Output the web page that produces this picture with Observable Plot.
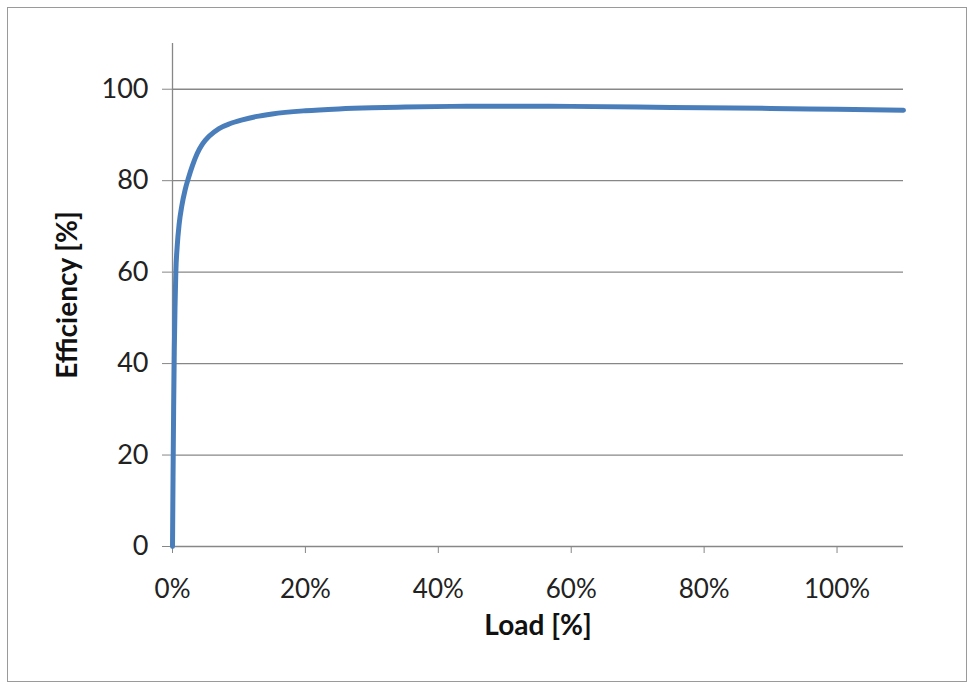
<!DOCTYPE html>
<html>
<head>
<meta charset="utf-8">
<script src="https://cdn.jsdelivr.net/npm/d3@7"></script>
<script src="https://cdn.jsdelivr.net/npm/@observablehq/plot@0.6"></script>
<style>
  html, body { margin: 0; padding: 0; background: #fff; }
  #wrap { position: relative; width: 971px; height: 688px; }
  #border { position: absolute; left: 7px; top: 7px; width: 958px; height: 673px;
            border: 1.5px solid #9a9a9a; pointer-events: none; }
</style>
</head>
<body>
<div id="wrap"><div id="border"></div></div>
<script>
// Load (% of rated) and efficiency (%)
const loadPct    = [0, 0.08, 0.17, 0.27, 0.38, 0.5, 0.7, 1.0, 1.4, 1.9, 2.4, 3.0, 3.7, 4.5, 5.5, 7.0, 8.7, 10.5, 12.5, 15, 20, 25, 30, 35, 42, 50, 60, 70, 80, 90, 100, 110];
const efficiency = [0, 15, 30, 43, 52.5, 60, 65.5, 70.5, 74.5, 78, 80.6, 83.3, 85.9, 88.0, 89.7, 91.4, 92.5, 93.3, 94.0, 94.6, 95.3, 95.7, 95.95, 96.1, 96.25, 96.3, 96.25, 96.1, 95.95, 95.8, 95.6, 95.4];
const xTicks = [0, 20, 40, 60, 80, 100];
const yTicks = [0, 20, 40, 60, 80, 100];
const xTitle = "Load [%]";
const yTitle = "Efficiency [%]";

const data = loadPct.map((x, i) => ({load: x, eff: efficiency[i]}));
const gray = "#878787";

const chart = Plot.plot({
  width: 971,
  height: 688,
  marginLeft: 172,
  marginRight: 68,
  marginTop: 43,
  marginBottom: 142,
  style: {fontFamily: "Lato, 'Open Sans', sans-serif", fontSize: "27px", color: "#222", background: "transparent"},
  x: {domain: [0, 110], ticks: xTicks, tickFormat: d => d + "%"},
  y: {domain: [0, 110], ticks: yTicks},
  marks: [
    Plot.gridY(yTicks.filter(d => d > 0), {stroke: gray, strokeOpacity: 1, strokeWidth: 1.3}),
    Plot.ruleX([0], {stroke: gray, strokeWidth: 1.3}),
    Plot.ruleY([0], {stroke: gray, strokeWidth: 1.3}),
    Plot.axisY({ticks: yTicks, tickSize: 10, tickPadding: 14, stroke: gray, label: null, fontSize: 27}),
    Plot.axisX({ticks: xTicks, tickSize: 7, tickPadding: 26, stroke: gray, label: null, tickFormat: d => d + "%", fontSize: 26}),
    Plot.line(data, {x: "load", y: "eff", stroke: "#4a7ebb", strokeWidth: 5, curve: "monotone-x"}),
    Plot.text([yTitle], {frameAnchor: "left", dx: -104, rotate: -90, textAnchor: "middle", fontWeight: "bold", fontSize: 28, fill: "#111"}),
    Plot.text([xTitle], {frameAnchor: "bottom", dy: 88, textAnchor: "middle", fontWeight: "bold", fontSize: 28, fill: "#111"})
  ]
});
document.getElementById("wrap").prepend(chart);
</script>
</body>
</html>
